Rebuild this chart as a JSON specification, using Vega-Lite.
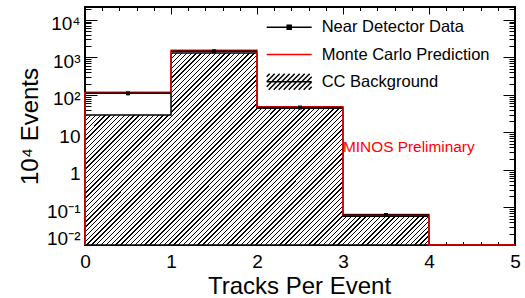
{
  "$schema": "https://vega.github.io/schema/vega-lite/v6.json",
  "width": 430,
  "height": 238,
  "autosize": {"type": "none"},
  "padding": {"left": 85, "top": 7, "right": 10, "bottom": 53},
  "background": "#ffffff",
  "config": {
    "font": "Liberation Sans",
    "view": {"stroke": "#000", "strokeWidth": 2},
    "axis": {"domain": false, "grid": false, "tickColor": "#000", "tickWidth": 1, "labelColor": "#000", "titleColor": "#000", "titleFontWeight": "normal", "labelFlush": false, "labelOverlap": false, "labelBound": false}
  },
  "datasets": {
    "bins": [
      {"lo": 0, "hi": 1, "mid": 0.5, "data": 110},
      {"lo": 1, "hi": 2, "mid": 1.5, "data": 1450},
      {"lo": 2, "hi": 3, "mid": 2.5, "data": 46},
      {"lo": 3, "hi": 4, "mid": 3.5, "data": 0.063}
    ],
    "cc_steps": [
      {"x": 0, "cc": 29.1},
      {"x": 1, "cc": 1309},
      {"x": 2, "cc": 44},
      {"x": 3, "cc": 0.058},
      {"x": 4, "cc": 0.058}
    ],
    "mc_steps": [
      {"i": 0, "x": 0, "mc": 0.01},
      {"i": 1, "x": 0, "mc": 117},
      {"i": 2, "x": 1, "mc": 1545},
      {"i": 3, "x": 2, "mc": 48.5},
      {"i": 4, "x": 3, "mc": 0.065},
      {"i": 5, "x": 4, "mc": 0.01},
      {"i": 6, "x": 5, "mc": 0.01}
    ],
    "legend_entries": [
      {"entry": "Near Detector Data"},
      {"entry": "Monte Carlo Prediction"},
      {"entry": "CC Background"}
    ],
    "note": [{"label": "MINOS Preliminary"}]
  },
  "resolve": {"axis": {"x": "independent", "y": "independent"}},
  "layer": [
    {
      "data": {"name": "cc_steps"},
      "mark": {
        "type": "area",
        "interpolate": "step-after",
        "stroke": "#000",
        "strokeWidth": 1.5,
        "fill": {"gradient": "linear", "x1": 0, "y1": 0, "x2": 1.188, "y2": 0.663, "stops": [
{"offset":0,"color":"#000"},{"offset":0.0025,"color":"#000"},{"offset":0.0025,"color":"#fff"},
{"offset":0.009,"color":"#fff"},{"offset":0.009,"color":"#000"},{"offset":0.0115,"color":"#000"},{"offset":0.0115,"color":"#fff"},
{"offset":0.018,"color":"#fff"},{"offset":0.018,"color":"#000"},{"offset":0.0205,"color":"#000"},{"offset":0.0205,"color":"#fff"},
{"offset":0.027,"color":"#fff"},{"offset":0.027,"color":"#000"},{"offset":0.0295,"color":"#000"},{"offset":0.0295,"color":"#fff"},
{"offset":0.036,"color":"#fff"},{"offset":0.036,"color":"#000"},{"offset":0.0385,"color":"#000"},{"offset":0.0385,"color":"#fff"},
{"offset":0.045,"color":"#fff"},{"offset":0.045,"color":"#000"},{"offset":0.0475,"color":"#000"},{"offset":0.0475,"color":"#fff"},
{"offset":0.054,"color":"#fff"},{"offset":0.054,"color":"#000"},{"offset":0.0565,"color":"#000"},{"offset":0.0565,"color":"#fff"},
{"offset":0.063,"color":"#fff"},{"offset":0.063,"color":"#000"},{"offset":0.0655,"color":"#000"},{"offset":0.0655,"color":"#fff"},
{"offset":0.072,"color":"#fff"},{"offset":0.072,"color":"#000"},{"offset":0.0745,"color":"#000"},{"offset":0.0745,"color":"#fff"},
{"offset":0.081,"color":"#fff"},{"offset":0.081,"color":"#000"},{"offset":0.0835,"color":"#000"},{"offset":0.0835,"color":"#fff"},
{"offset":0.09,"color":"#fff"},{"offset":0.09,"color":"#000"},{"offset":0.0925,"color":"#000"},{"offset":0.0925,"color":"#fff"},
{"offset":0.099,"color":"#fff"},{"offset":0.099,"color":"#000"},{"offset":0.1015,"color":"#000"},{"offset":0.1015,"color":"#fff"},
{"offset":0.108,"color":"#fff"},{"offset":0.108,"color":"#000"},{"offset":0.1105,"color":"#000"},{"offset":0.1105,"color":"#fff"},
{"offset":0.117,"color":"#fff"},{"offset":0.117,"color":"#000"},{"offset":0.1195,"color":"#000"},{"offset":0.1195,"color":"#fff"},
{"offset":0.126,"color":"#fff"},{"offset":0.126,"color":"#000"},{"offset":0.1285,"color":"#000"},{"offset":0.1285,"color":"#fff"},
{"offset":0.135,"color":"#fff"},{"offset":0.135,"color":"#000"},{"offset":0.1375,"color":"#000"},{"offset":0.1375,"color":"#fff"},
{"offset":0.144,"color":"#fff"},{"offset":0.144,"color":"#000"},{"offset":0.1465,"color":"#000"},{"offset":0.1465,"color":"#fff"},
{"offset":0.153,"color":"#fff"},{"offset":0.153,"color":"#000"},{"offset":0.1555,"color":"#000"},{"offset":0.1555,"color":"#fff"},
{"offset":0.162,"color":"#fff"},{"offset":0.162,"color":"#000"},{"offset":0.1645,"color":"#000"},{"offset":0.1645,"color":"#fff"},
{"offset":0.171,"color":"#fff"},{"offset":0.171,"color":"#000"},{"offset":0.1735,"color":"#000"},{"offset":0.1735,"color":"#fff"},
{"offset":0.18,"color":"#fff"},{"offset":0.18,"color":"#000"},{"offset":0.1825,"color":"#000"},{"offset":0.1825,"color":"#fff"},
{"offset":0.189,"color":"#fff"},{"offset":0.189,"color":"#000"},{"offset":0.1915,"color":"#000"},{"offset":0.1915,"color":"#fff"},
{"offset":0.198,"color":"#fff"},{"offset":0.198,"color":"#000"},{"offset":0.2005,"color":"#000"},{"offset":0.2005,"color":"#fff"},
{"offset":0.207,"color":"#fff"},{"offset":0.207,"color":"#000"},{"offset":0.2095,"color":"#000"},{"offset":0.2095,"color":"#fff"},
{"offset":0.216,"color":"#fff"},{"offset":0.216,"color":"#000"},{"offset":0.2185,"color":"#000"},{"offset":0.2185,"color":"#fff"},
{"offset":0.225,"color":"#fff"},{"offset":0.225,"color":"#000"},{"offset":0.2275,"color":"#000"},{"offset":0.2275,"color":"#fff"},
{"offset":0.234,"color":"#fff"},{"offset":0.234,"color":"#000"},{"offset":0.2365,"color":"#000"},{"offset":0.2365,"color":"#fff"},
{"offset":0.243,"color":"#fff"},{"offset":0.243,"color":"#000"},{"offset":0.2455,"color":"#000"},{"offset":0.2455,"color":"#fff"},
{"offset":0.252,"color":"#fff"},{"offset":0.252,"color":"#000"},{"offset":0.2545,"color":"#000"},{"offset":0.2545,"color":"#fff"},
{"offset":0.261,"color":"#fff"},{"offset":0.261,"color":"#000"},{"offset":0.2635,"color":"#000"},{"offset":0.2635,"color":"#fff"},
{"offset":0.27,"color":"#fff"},{"offset":0.27,"color":"#000"},{"offset":0.2725,"color":"#000"},{"offset":0.2725,"color":"#fff"},
{"offset":0.279,"color":"#fff"},{"offset":0.279,"color":"#000"},{"offset":0.2815,"color":"#000"},{"offset":0.2815,"color":"#fff"},
{"offset":0.288,"color":"#fff"},{"offset":0.288,"color":"#000"},{"offset":0.2905,"color":"#000"},{"offset":0.2905,"color":"#fff"},
{"offset":0.297,"color":"#fff"},{"offset":0.297,"color":"#000"},{"offset":0.2995,"color":"#000"},{"offset":0.2995,"color":"#fff"},
{"offset":0.306,"color":"#fff"},{"offset":0.306,"color":"#000"},{"offset":0.3085,"color":"#000"},{"offset":0.3085,"color":"#fff"},
{"offset":0.315,"color":"#fff"},{"offset":0.315,"color":"#000"},{"offset":0.3175,"color":"#000"},{"offset":0.3175,"color":"#fff"},
{"offset":0.324,"color":"#fff"},{"offset":0.324,"color":"#000"},{"offset":0.3265,"color":"#000"},{"offset":0.3265,"color":"#fff"},
{"offset":0.333,"color":"#fff"},{"offset":0.333,"color":"#000"},{"offset":0.3355,"color":"#000"},{"offset":0.3355,"color":"#fff"},
{"offset":0.342,"color":"#fff"},{"offset":0.342,"color":"#000"},{"offset":0.3445,"color":"#000"},{"offset":0.3445,"color":"#fff"},
{"offset":0.351,"color":"#fff"},{"offset":0.351,"color":"#000"},{"offset":0.3535,"color":"#000"},{"offset":0.3535,"color":"#fff"},
{"offset":0.36,"color":"#fff"},{"offset":0.36,"color":"#000"},{"offset":0.3625,"color":"#000"},{"offset":0.3625,"color":"#fff"},
{"offset":0.369,"color":"#fff"},{"offset":0.369,"color":"#000"},{"offset":0.3715,"color":"#000"},{"offset":0.3715,"color":"#fff"},
{"offset":0.378,"color":"#fff"},{"offset":0.378,"color":"#000"},{"offset":0.3805,"color":"#000"},{"offset":0.3805,"color":"#fff"},
{"offset":0.387,"color":"#fff"},{"offset":0.387,"color":"#000"},{"offset":0.3895,"color":"#000"},{"offset":0.3895,"color":"#fff"},
{"offset":0.396,"color":"#fff"},{"offset":0.396,"color":"#000"},{"offset":0.3985,"color":"#000"},{"offset":0.3985,"color":"#fff"},
{"offset":0.405,"color":"#fff"},{"offset":0.405,"color":"#000"},{"offset":0.4075,"color":"#000"},{"offset":0.4075,"color":"#fff"},
{"offset":0.414,"color":"#fff"},{"offset":0.414,"color":"#000"},{"offset":0.4165,"color":"#000"},{"offset":0.4165,"color":"#fff"},
{"offset":0.423,"color":"#fff"},{"offset":0.423,"color":"#000"},{"offset":0.4255,"color":"#000"},{"offset":0.4255,"color":"#fff"},
{"offset":0.432,"color":"#fff"},{"offset":0.432,"color":"#000"},{"offset":0.4345,"color":"#000"},{"offset":0.4345,"color":"#fff"},
{"offset":0.441,"color":"#fff"},{"offset":0.441,"color":"#000"},{"offset":0.4435,"color":"#000"},{"offset":0.4435,"color":"#fff"},
{"offset":0.45,"color":"#fff"},{"offset":0.45,"color":"#000"},{"offset":0.4525,"color":"#000"},{"offset":0.4525,"color":"#fff"},
{"offset":0.459,"color":"#fff"},{"offset":0.459,"color":"#000"},{"offset":0.4615,"color":"#000"},{"offset":0.4615,"color":"#fff"},
{"offset":0.468,"color":"#fff"},{"offset":0.468,"color":"#000"},{"offset":0.4705,"color":"#000"},{"offset":0.4705,"color":"#fff"},
{"offset":0.477,"color":"#fff"},{"offset":0.477,"color":"#000"},{"offset":0.4795,"color":"#000"},{"offset":0.4795,"color":"#fff"},
{"offset":0.486,"color":"#fff"},{"offset":0.486,"color":"#000"},{"offset":0.4885,"color":"#000"},{"offset":0.4885,"color":"#fff"},
{"offset":0.495,"color":"#fff"},{"offset":0.495,"color":"#000"},{"offset":0.4975,"color":"#000"},{"offset":0.4975,"color":"#fff"},
{"offset":0.504,"color":"#fff"},{"offset":0.504,"color":"#000"},{"offset":0.5065,"color":"#000"},{"offset":0.5065,"color":"#fff"},
{"offset":0.513,"color":"#fff"},{"offset":0.513,"color":"#000"},{"offset":0.5155,"color":"#000"},{"offset":0.5155,"color":"#fff"},
{"offset":0.522,"color":"#fff"},{"offset":0.522,"color":"#000"},{"offset":0.5245,"color":"#000"},{"offset":0.5245,"color":"#fff"},
{"offset":0.531,"color":"#fff"},{"offset":0.531,"color":"#000"},{"offset":0.5335,"color":"#000"},{"offset":0.5335,"color":"#fff"},
{"offset":0.54,"color":"#fff"},{"offset":0.54,"color":"#000"},{"offset":0.5425,"color":"#000"},{"offset":0.5425,"color":"#fff"},
{"offset":0.549,"color":"#fff"},{"offset":0.549,"color":"#000"},{"offset":0.5515,"color":"#000"},{"offset":0.5515,"color":"#fff"},
{"offset":0.558,"color":"#fff"},{"offset":0.558,"color":"#000"},{"offset":0.5605,"color":"#000"},{"offset":0.5605,"color":"#fff"},
{"offset":0.567,"color":"#fff"},{"offset":0.567,"color":"#000"},{"offset":0.5695,"color":"#000"},{"offset":0.5695,"color":"#fff"},
{"offset":0.576,"color":"#fff"},{"offset":0.576,"color":"#000"},{"offset":0.5785,"color":"#000"},{"offset":0.5785,"color":"#fff"},
{"offset":0.585,"color":"#fff"},{"offset":0.585,"color":"#000"},{"offset":0.5875,"color":"#000"},{"offset":0.5875,"color":"#fff"},
{"offset":0.594,"color":"#fff"},{"offset":0.594,"color":"#000"},{"offset":0.5965,"color":"#000"},{"offset":0.5965,"color":"#fff"},
{"offset":0.603,"color":"#fff"},{"offset":0.603,"color":"#000"},{"offset":0.6055,"color":"#000"},{"offset":0.6055,"color":"#fff"},
{"offset":0.612,"color":"#fff"},{"offset":0.612,"color":"#000"},{"offset":0.6145,"color":"#000"},{"offset":0.6145,"color":"#fff"},
{"offset":0.621,"color":"#fff"},{"offset":0.621,"color":"#000"},{"offset":0.6235,"color":"#000"},{"offset":0.6235,"color":"#fff"},
{"offset":0.63,"color":"#fff"},{"offset":0.63,"color":"#000"},{"offset":0.6325,"color":"#000"},{"offset":0.6325,"color":"#fff"},
{"offset":0.639,"color":"#fff"},{"offset":0.639,"color":"#000"},{"offset":0.6415,"color":"#000"},{"offset":0.6415,"color":"#fff"},
{"offset":0.648,"color":"#fff"},{"offset":0.648,"color":"#000"},{"offset":0.6505,"color":"#000"},{"offset":0.6505,"color":"#fff"},
{"offset":0.657,"color":"#fff"},{"offset":0.657,"color":"#000"},{"offset":0.6595,"color":"#000"},{"offset":0.6595,"color":"#fff"},
{"offset":0.666,"color":"#fff"},{"offset":0.666,"color":"#000"},{"offset":0.6685,"color":"#000"},{"offset":0.6685,"color":"#fff"},
{"offset":0.675,"color":"#fff"},{"offset":0.675,"color":"#000"},{"offset":0.6775,"color":"#000"},{"offset":0.6775,"color":"#fff"},
{"offset":0.684,"color":"#fff"},{"offset":0.684,"color":"#000"},{"offset":0.6865,"color":"#000"},{"offset":0.6865,"color":"#fff"},
{"offset":0.693,"color":"#fff"},{"offset":0.693,"color":"#000"},{"offset":0.6955,"color":"#000"},{"offset":0.6955,"color":"#fff"},
{"offset":0.702,"color":"#fff"},{"offset":0.702,"color":"#000"},{"offset":0.7045,"color":"#000"},{"offset":0.7045,"color":"#fff"},
{"offset":0.711,"color":"#fff"},{"offset":0.711,"color":"#000"},{"offset":0.7135,"color":"#000"},{"offset":0.7135,"color":"#fff"},
{"offset":0.72,"color":"#fff"},{"offset":0.72,"color":"#000"},{"offset":0.7225,"color":"#000"},{"offset":0.7225,"color":"#fff"},
{"offset":0.729,"color":"#fff"},{"offset":0.729,"color":"#000"},{"offset":0.7315,"color":"#000"},{"offset":0.7315,"color":"#fff"},
{"offset":0.738,"color":"#fff"},{"offset":0.738,"color":"#000"},{"offset":0.7405,"color":"#000"},{"offset":0.7405,"color":"#fff"},
{"offset":0.747,"color":"#fff"},{"offset":0.747,"color":"#000"},{"offset":0.7495,"color":"#000"},{"offset":0.7495,"color":"#fff"},
{"offset":0.756,"color":"#fff"},{"offset":0.756,"color":"#000"},{"offset":0.7585,"color":"#000"},{"offset":0.7585,"color":"#fff"},
{"offset":0.765,"color":"#fff"},{"offset":0.765,"color":"#000"},{"offset":0.7675,"color":"#000"},{"offset":0.7675,"color":"#fff"},
{"offset":0.774,"color":"#fff"},{"offset":0.774,"color":"#000"},{"offset":0.7765,"color":"#000"},{"offset":0.7765,"color":"#fff"},
{"offset":0.783,"color":"#fff"},{"offset":0.783,"color":"#000"},{"offset":0.7855,"color":"#000"},{"offset":0.7855,"color":"#fff"},
{"offset":0.792,"color":"#fff"},{"offset":0.792,"color":"#000"},{"offset":0.7945,"color":"#000"},{"offset":0.7945,"color":"#fff"},
{"offset":0.801,"color":"#fff"},{"offset":0.801,"color":"#000"},{"offset":0.8035,"color":"#000"},{"offset":0.8035,"color":"#fff"},
{"offset":0.81,"color":"#fff"},{"offset":0.81,"color":"#000"},{"offset":0.8125,"color":"#000"},{"offset":0.8125,"color":"#fff"},
{"offset":0.819,"color":"#fff"},{"offset":0.819,"color":"#000"},{"offset":0.8215,"color":"#000"},{"offset":0.8215,"color":"#fff"},
{"offset":0.828,"color":"#fff"},{"offset":0.828,"color":"#000"},{"offset":0.8305,"color":"#000"},{"offset":0.8305,"color":"#fff"},
{"offset":0.837,"color":"#fff"},{"offset":0.837,"color":"#000"},{"offset":0.8395,"color":"#000"},{"offset":0.8395,"color":"#fff"},
{"offset":0.846,"color":"#fff"},{"offset":0.846,"color":"#000"},{"offset":0.8485,"color":"#000"},{"offset":0.8485,"color":"#fff"},
{"offset":0.855,"color":"#fff"},{"offset":0.855,"color":"#000"},{"offset":0.8575,"color":"#000"},{"offset":0.8575,"color":"#fff"},
{"offset":0.864,"color":"#fff"},{"offset":0.864,"color":"#000"},{"offset":0.8665,"color":"#000"},{"offset":0.8665,"color":"#fff"},
{"offset":0.873,"color":"#fff"},{"offset":0.873,"color":"#000"},{"offset":0.8755,"color":"#000"},{"offset":0.8755,"color":"#fff"},
{"offset":0.882,"color":"#fff"},{"offset":0.882,"color":"#000"},{"offset":0.8845,"color":"#000"},{"offset":0.8845,"color":"#fff"},
{"offset":0.891,"color":"#fff"},{"offset":0.891,"color":"#000"},{"offset":0.8935,"color":"#000"},{"offset":0.8935,"color":"#fff"},
{"offset":0.9,"color":"#fff"},{"offset":0.9,"color":"#000"},{"offset":0.9025,"color":"#000"},{"offset":0.9025,"color":"#fff"},
{"offset":0.909,"color":"#fff"},{"offset":0.909,"color":"#000"},{"offset":0.9115,"color":"#000"},{"offset":0.9115,"color":"#fff"},
{"offset":0.918,"color":"#fff"},{"offset":0.918,"color":"#000"},{"offset":0.9205,"color":"#000"},{"offset":0.9205,"color":"#fff"},
{"offset":0.927,"color":"#fff"},{"offset":0.927,"color":"#000"},{"offset":0.9295,"color":"#000"},{"offset":0.9295,"color":"#fff"},
{"offset":0.936,"color":"#fff"},{"offset":0.936,"color":"#000"},{"offset":0.9385,"color":"#000"},{"offset":0.9385,"color":"#fff"},
{"offset":0.945,"color":"#fff"},{"offset":0.945,"color":"#000"},{"offset":0.9475,"color":"#000"},{"offset":0.9475,"color":"#fff"},
{"offset":0.954,"color":"#fff"},{"offset":0.954,"color":"#000"},{"offset":0.9565,"color":"#000"},{"offset":0.9565,"color":"#fff"},
{"offset":0.963,"color":"#fff"},{"offset":0.963,"color":"#000"},{"offset":0.9655,"color":"#000"},{"offset":0.9655,"color":"#fff"},
{"offset":0.972,"color":"#fff"},{"offset":0.972,"color":"#000"},{"offset":0.9745,"color":"#000"},{"offset":0.9745,"color":"#fff"},
{"offset":0.981,"color":"#fff"},{"offset":0.981,"color":"#000"},{"offset":0.9835,"color":"#000"},{"offset":0.9835,"color":"#fff"},
{"offset":0.99,"color":"#fff"},{"offset":0.99,"color":"#000"},{"offset":0.9925,"color":"#000"},{"offset":0.9925,"color":"#fff"},
{"offset":1,"color":"#fff"}
        ]}
      },
      "encoding": {
        "x": {
          "field": "x", "type": "quantitative",
          "scale": {"domain": [0, 5], "nice": false, "zero": false},
          "axis": {
            "orient": "bottom",
            "values": [0,0.2,0.4,0.6,0.8,1,1.2,1.4,1.6,1.8,2,2.2,2.4,2.6,2.8,3,3.2,3.4,3.6,3.8,4,4.2,4.4,4.6,4.8,5],
            "tickSize": {"condition": {"test": "datum.value % 1 == 0", "value": -7}, "value": -3.5},
            "labelExpr": "datum.value % 1 == 0 ? format(datum.value, 'd') : ''",
            "labelFontSize": 19,
            "labelPadding": 14,
            "title": "Tracks Per Event",
            "titleFontSize": 24,
            "titleX": 214,
            "titleY": 48,
            "titleAlign": "center",
            "titleBaseline": "alphabetic"
          }
        },
        "y": {
          "field": "cc", "type": "quantitative",
          "scale": {"type": "log", "domain": [0.01, 22000], "nice": false},
          "axis": {
            "orient": "left",
            "values": [0.01,0.02,0.03,0.04,0.05,0.06,0.07,0.08,0.09,0.1,0.2,0.3,0.4,0.5,0.6,0.7,0.8,0.9,1,2,3,4,5,6,7,8,9,10,20,30,40,50,60,70,80,90,100,200,300,400,500,600,700,800,900,1000,2000,3000,4000,5000,6000,7000,8000,9000,10000,20000],
            "tickSize": {"condition": {"test": "indexof([0.01,0.1,1,10,100,1000,10000], datum.value) >= 0", "value": -12}, "value": -6},
            "labelExpr": "datum.value==10000?'10⁴':datum.value==1000?'10³':datum.value==100?'10²':datum.value==10?'10':datum.value==1?'1':datum.value==0.1?'10⁻¹':datum.value==0.01?'10⁻²':''",
            "labelFontSize": 19,
            "labelPadding": 17,
            "labelBaseline": "middle",
            "labelOffset": {"condition": {"test": "datum.value < 0.02", "value": -7}, "value": 4},
            "title": "10⁴ Events",
            "titleFontSize": 24,
            "titleAngle": 270,
            "titleX": -47.5,
            "titleY": 119,
            "titleAlign": "center",
            "titleBaseline": "alphabetic"
          }
        },
        "y2": {"datum": 0.01}
      }
    },
    {
      "data": {"name": "mc_steps"},
      "mark": {"type": "line", "interpolate": "step-after", "color": "#ff0000", "strokeWidth": 1.5},
      "encoding": {
        "x": {
          "field": "x", "type": "quantitative",
          "axis": {
            "orient": "top", "labels": false, "title": null,
            "values": [0,0.2,0.4,0.6,0.8,1,1.2,1.4,1.6,1.8,2,2.2,2.4,2.6,2.8,3,3.2,3.4,3.6,3.8,4,4.2,4.4,4.6,4.8,5],
            "tickSize": {"condition": {"test": "datum.value % 1 == 0", "value": -7}, "value": -3.5}
          }
        },
        "y": {
          "field": "mc", "type": "quantitative",
          "axis": {
            "orient": "right", "labels": false, "title": null,
            "values": [0.01,0.02,0.03,0.04,0.05,0.06,0.07,0.08,0.09,0.1,0.2,0.3,0.4,0.5,0.6,0.7,0.8,0.9,1,2,3,4,5,6,7,8,9,10,20,30,40,50,60,70,80,90,100,200,300,400,500,600,700,800,900,1000,2000,3000,4000,5000,6000,7000,8000,9000,10000,20000],
            "tickSize": {"condition": {"test": "indexof([0.01,0.1,1,10,100,1000,10000], datum.value) >= 0", "value": -12}, "value": -6}
          }
        },
        "order": {"field": "i", "type": "quantitative"}
      }
    },
    {
      "data": {"name": "bins"},
      "mark": {"type": "rule", "color": "#000", "strokeWidth": 1.5},
      "encoding": {
        "x": {"field": "lo", "type": "quantitative", "axis": null},
        "x2": {"field": "hi"},
        "y": {"field": "data", "type": "quantitative", "axis": null}
      }
    },
    {
      "data": {"name": "bins"},
      "mark": {"type": "point", "shape": "square", "filled": true, "size": 16, "opacity": 1, "color": "#000"},
      "encoding": {
        "x": {"field": "mid", "type": "quantitative", "axis": null},
        "y": {"field": "data", "type": "quantitative", "axis": null}
      }
    },
    {
      "data": {"name": "legend_entries"},
      "mark": {"type": "point", "filled": true, "opacity": 0},
      "encoding": {
        "shape": {
          "field": "entry", "type": "nominal",
          "scale": {
            "domain": ["Near Detector Data", "Monte Carlo Prediction", "CC Background"],
            "range": [
              "M0,-1L0,-1M0,1L0,1M-2.8125,0H2.8125M-0.25,-0.25H0.25V0.25H-0.25Z",
              "M0,-1L0,-1M0,1L0,1M-2.8125,0H2.8125",
              "M-2.8125,-0.625L-2.4375,-1M-2.8125,0L-1.8125,-1M-2.8125,0.625L-1.1875,-1M-2.5625,1L-0.5625,-1M-1.9375,1L0.0625,-1M-1.3125,1L0.6875,-1M-0.6875,1L1.3125,-1M-0.0625,1L1.9375,-1M0.5625,1L2.5625,-1M1.1875,1L2.8125,-0.625M1.8125,1L2.8125,0M2.4375,1L2.8125,0.625M-2.8125,0H2.8125"
            ]
          },
          "legend": {
            "orient": "none", "legendX": 195.2, "legendY": 11.3, "title": null, "padding": 0,
            "labelFontSize": 16.5, "labelColor": "#000", "labelOffset": 23.5, "labelLimit": 400,
            "rowPadding": 5.2, "symbolSize": 256, "symbolStrokeWidth": 1.5, "symbolOpacity": 1
          }
        },
        "fill": {
          "field": "entry", "type": "nominal",
          "scale": {
            "domain": ["Near Detector Data", "Monte Carlo Prediction", "CC Background"],
            "range": ["#000000", "transparent", "transparent"]
          },
          "legend": {
            "orient": "none", "legendX": 195.2, "legendY": 11.3, "title": null, "padding": 0,
            "labelFontSize": 16.5, "labelColor": "#000", "labelOffset": 23.5, "labelLimit": 400,
            "rowPadding": 5.2, "symbolSize": 256, "symbolStrokeWidth": 1.5, "symbolOpacity": 1
          }
        },
        "stroke": {
          "field": "entry", "type": "nominal",
          "scale": {
            "domain": ["Near Detector Data", "Monte Carlo Prediction", "CC Background"],
            "range": ["#000000", "#ff0000", "#000000"]
          },
          "legend": {
            "orient": "none", "legendX": 195.2, "legendY": 11.3, "title": null, "padding": 0,
            "labelFontSize": 16.5, "labelColor": "#000", "labelOffset": 23.5, "labelLimit": 400,
            "rowPadding": 5.2, "symbolSize": 256, "symbolStrokeWidth": 1.5, "symbolOpacity": 1
          }
        }
      }
    },
    {
      "data": {"name": "note"},
      "mark": {"type": "text", "align": "left", "baseline": "middle", "fontSize": 15.4, "color": "#ff0000"},
      "encoding": {
        "x": {"datum": 3, "type": "quantitative", "axis": null},
        "y": {"datum": 4.1, "type": "quantitative", "axis": null},
        "text": {"field": "label"}
      }
    }
  ]
}
